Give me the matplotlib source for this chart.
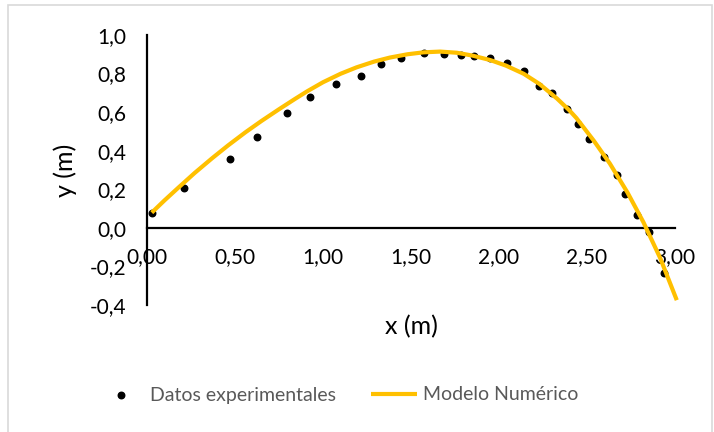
import matplotlib.pyplot as plt
from matplotlib.patches import Rectangle

datos_x = [0.027, 0.212, 0.473, 0.627, 0.794, 0.928, 1.072, 1.216, 1.331, 1.443,
           1.574, 1.689, 1.782, 1.858, 1.949, 2.047, 2.140, 2.229, 2.303, 2.385,
           2.447, 2.513, 2.597, 2.669, 2.718, 2.784, 2.854, 2.938]
datos_y = [0.079, 0.209, 0.358, 0.473, 0.598, 0.677, 0.745, 0.786, 0.850, 0.883,
           0.909, 0.902, 0.898, 0.892, 0.880, 0.854, 0.815, 0.733, 0.698, 0.617,
           0.541, 0.460, 0.367, 0.276, 0.178, 0.067, -0.024, -0.232]

# Numerical model curve
modelo_x = [0.027, 0.10, 0.18, 0.27, 0.37, 0.46, 0.56, 0.65, 0.75, 0.84,
            0.91, 1.00, 1.10, 1.19, 1.29, 1.38, 1.48, 1.57, 1.665, 1.76,
            1.85, 1.95, 2.04, 2.14, 2.23, 2.33, 2.40, 2.44, 2.54, 2.63,
            2.73, 2.82, 2.915, 3.01]
modelo_y = [0.079, 0.143, 0.210, 0.284, 0.361, 0.427, 0.496, 0.554, 0.615, 0.668,
            0.708, 0.755, 0.799, 0.832, 0.862, 0.883, 0.900, 0.910, 0.914, 0.908,
            0.893, 0.870, 0.841, 0.799, 0.746, 0.670, 0.609, 0.569, 0.450, 0.333,
            0.183, 0.030, -0.155, -0.375]

x_ticks = [0.0, 0.5, 1.0, 1.5, 2.0, 2.5, 3.0]
x_tick_labels = ["0,00", "0,50", "1,00", "1,50", "2,00", "2,50", "3,00"]
y_ticks = [-0.4, -0.2, 0.0, 0.2, 0.4, 0.6, 0.8, 1.0]
y_tick_labels = ["-0,4", "-0,2", "0,0", "0,2", "0,4", "0,6", "0,8", "1,0"]

plt.rcParams["font.family"] = ["Lato", "DejaVu Sans"]

fig = plt.figure(figsize=(7.14, 4.32), dpi=100)
ax = fig.add_axes([0.2059, 0.294, 0.7395, 0.625])

# Chart area border
fig.patches.append(Rectangle((8 / 714, -0.01), 704 / 714, 1 - 5 / 432 + 0.01,
                             transform=fig.transFigure, fill=False,
                             edgecolor="#d9d9d9", linewidth=1.2))

ax.scatter(datos_x, datos_y, s=22, color="black", zorder=2,
           label="Datos experimentales")
ax.plot(modelo_x, modelo_y, color="#FFC000", linewidth=3, zorder=3,
        solid_capstyle="butt", solid_joinstyle="round",
        label="Modelo Numérico", clip_on=False)

ax.set_xlim(0, 3)
ax.set_ylim(-0.4, 1.0)

ax.spines["top"].set_visible(False)
ax.spines["right"].set_visible(False)
ax.spines["bottom"].set_position(("data", 0))
for side in ["left", "bottom"]:
    ax.spines[side].set_linewidth(1.6)
    ax.spines[side].set_color("black")

ax.set_xticks(x_ticks)
ax.set_xticklabels(x_tick_labels)
ax.set_yticks(y_ticks)
ax.set_yticklabels(y_tick_labels)
ax.tick_params(axis="x", length=0, pad=14, labelsize=15)
ax.tick_params(axis="y", length=0, pad=15, labelsize=15)

ax.set_xlabel("x (m)", fontsize=18)
ax.set_ylabel("y (m)", fontsize=18)
ax.xaxis.set_label_coords(0.5, -0.037)
ax.yaxis.set_label_coords(-0.133, 0.5)

leg = fig.legend(loc="center", bbox_to_anchor=(338 / 714, 1 - 395 / 432), ncol=2,
                 frameon=False, fontsize=14, handlelength=2.4,
                 handletextpad=0.3, columnspacing=1.8)
for text in leg.get_texts():
    text.set_color("#595959")

fig.savefig("out.png", dpi=100)
